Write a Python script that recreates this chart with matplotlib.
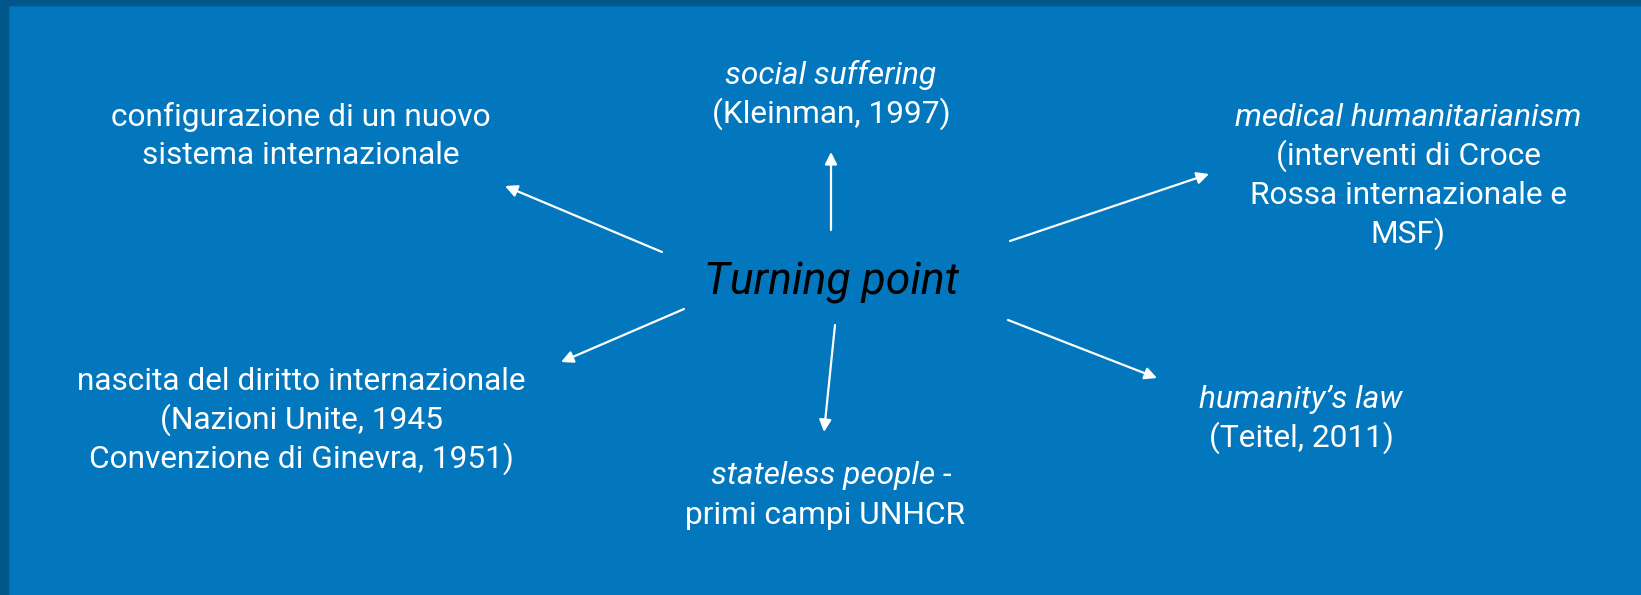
import matplotlib
matplotlib.use("Agg")
import matplotlib.pyplot as plt
from matplotlib.patches import Rectangle

plt.rcParams['font.family'] = ['Roboto', 'DejaVu Sans']

# background colours
border_col = "#01578A"
panel_col = "#0277BD"

# label blocks: (x centre, y centres, lines, italic flags)
centre_text = "Turning point"
centre_xy = (831, 283)

labels = [
    (301, [117, 156], ["configurazione di un nuovo", "sistema internazionale"], [False, False]),
    (831, [75, 114], ["social suffering", "(Kleinman, 1997)"], [True, False]),
    (1408, [117, 156, 195, 234], ["medical humanitarianism", "(interventi di Croce",
                                  "Rossa internazionale e", "MSF)"], [True, False, False, False]),
    (301, [381, 420, 459], ["nascita del diritto internazionale", "(Nazioni Unite, 1945",
                            "Convenzione di Ginevra, 1951)"], [False, False, False]),
    (1301, [399, 438], ["humanity\u2019s law", "(Teitel, 2011)"], [True, False]),
    (825, [515], ["primi campi UNHCR"], [False]),
]
# mixed line: italic part then plain part
mixed_xy = (831, 476)
mixed_parts = ["stateless people", " -"]

# arrows: start -> tip
arrow_start = [(662, 252), (831, 230), (1010, 241), (684, 309), (835, 325), (1008, 320)]
arrow_tip = [(505, 186), (831, 152), (1209, 174), (561, 362), (824, 432), (1157, 378)]

fig = plt.figure(figsize=(16.41, 5.95), dpi=100)
fig.patch.set_facecolor(border_col)
ax = fig.add_axes([0, 0, 1, 1])
ax.set_xlim(0, 1641)
ax.set_ylim(595, 0)
ax.axis("off")

ax.add_patch(Rectangle((9, 6), 1641, 595, facecolor=panel_col, edgecolor="none"))
ax.plot([9, 9, 1641], [595, 6, 6], color="#0369A6", lw=1)

fs = 22.8
for x, ys, lines, ital in labels:
    for y, s, it in zip(ys, lines, ital):
        ax.text(x, y, s, ha="center", va="center", color="white", fontsize=fs,
                style="italic" if it else "normal")

# stateless people line, centred as a whole
renderer = fig.canvas.get_renderer()
t1 = ax.text(0, mixed_xy[1], mixed_parts[0], ha="left", va="center", color="white",
             fontsize=fs, style="italic")
t2 = ax.text(0, mixed_xy[1], mixed_parts[1], ha="left", va="center", color="white",
             fontsize=fs)
w1 = t1.get_window_extent(renderer).width
w2 = t2.get_window_extent(renderer).width
x_left = mixed_xy[0] - (w1 + w2) / 2
t1.set_x(x_left)
t2.set_x(x_left + w1)

ax.text(centre_xy[0], centre_xy[1], centre_text, ha="center", va="center",
        color="black", fontsize=32, style="italic")

for (x0, y0), (x1, y1) in zip(arrow_start, arrow_tip):
    ax.annotate("", xy=(x1, y1), xytext=(x0, y0),
                arrowprops=dict(arrowstyle="-|>", color="white", lw=1.6,
                                mutation_scale=18, shrinkA=0, shrinkB=0))

fig.savefig("out.png", dpi=100, facecolor=fig.get_facecolor())
